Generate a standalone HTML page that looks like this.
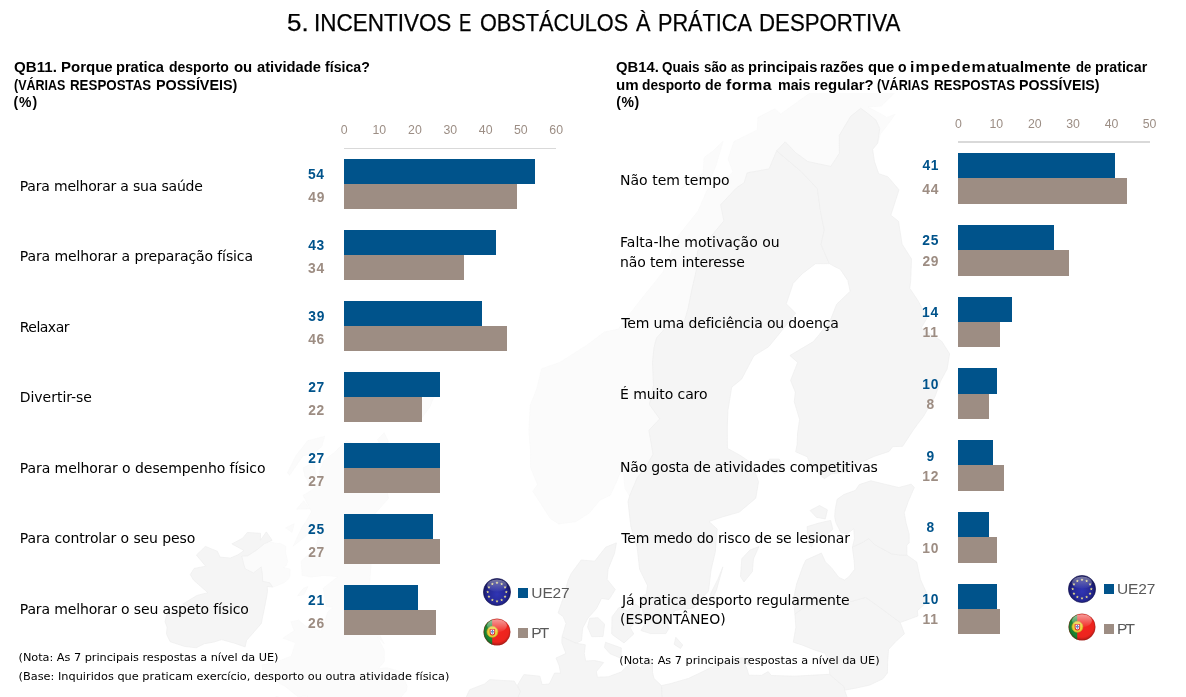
<!DOCTYPE html>
<html lang="pt">
<head>
<meta charset="utf-8">
<title>5. Incentivos e obstáculos à prática desportiva</title>
<style>
html,body{margin:0;padding:0;background:#fff;}
body{width:1186px;height:697px;position:relative;overflow:hidden;font-family:"Liberation Sans",sans-serif;}
#map{position:absolute;left:0;top:0;width:1186px;height:697px;}
.t{position:absolute;white-space:nowrap;margin:0;padding:0;}
.c{transform:translateX(-50%);}
.w{position:absolute;top:0;transform-origin:0 0;}
#title{-webkit-text-stroke:0.25px #000;}
.bar,.sq,.axis{position:absolute;}
.flag{position:absolute;width:28px;height:28px;}
</style>
</head>
<body>
<svg id="map" viewBox="0 0 1186 697">
<defs><clipPath id="mapclip"><rect x="0" y="93" width="1186" height="604"/></clipPath></defs>
<g clip-path="url(#mapclip)">
<g fill="#fbfbfb" stroke="#f8f8f8" stroke-width="0.6" stroke-linejoin="round">
<path d="M264.2 543.8 L271.1 542.1 L276.8 543.4 L279.9 543.2 L285.9 546.4 L285.6 552.8 L287.7 561.3 L286.2 565.7 L283.5 567.3 L290.1 569.2 L289.7 577.5 L287.2 580.3 L283.8 582.8 L276.9 585.7 L272.6 587.1 L269.6 582.7 L262.7 581.4 L262.3 573.9 L261.2 566.9 L253.6 572.9 L245.2 568.9 L243.6 563.9 L241.8 556.1 L247.5 555.9 L257.5 549.4Z"/>
<path d="M346.5 440.6 L362.7 447.6 L373.9 449.1 L379.3 452.1 L372.7 462.6 L358.1 473.5 L352.5 472.2 L346.8 483.3 L364.4 482.3 L386.8 490.2 L388.6 498.3 L379.6 508.4 L368.4 521.4 L360.4 528.1 L361.4 534.1 L343.9 539.2 L357.0 541.9 L365.6 550.6 L371.2 563.8 L369.3 585.6 L371.2 601.3 L379.6 607.7 L385.8 623.8 L379.9 635.8 L384.2 643.8 L377.5 636.9 L384.3 650.2 L384.4 661.4 L378.2 668.8 L386.9 667.7 L401.6 672.0 L407.2 686.6 L406.5 690.8 L392.8 706.6 L387.0 712.3 L374.8 718.0 L370.3 718.5 L390.5 727.0 L386.3 735.1 L377.1 740.2 L360.8 742.1 L353.7 736.6 L339.3 736.1 L333.9 731.4 L327.7 737.6 L313.7 732.2 L303.8 731.8 L296.5 722.5 L284.4 721.9 L276.3 733.4 L267.6 725.2 L248.8 723.8 L242.0 730.3 L233.2 722.6 L244.9 718.5 L252.8 712.0 L267.2 700.4 L276.9 696.5 L297.8 704.1 L307.9 696.3 L297.9 696.6 L284.7 686.1 L280.0 683.6 L271.5 676.1 L262.7 672.7 L262.1 664.8 L276.2 661.9 L291.2 656.2 L295.6 642.7 L282.9 638.2 L294.2 630.7 L290.8 621.8 L298.7 620.3 L306.2 626.5 L320.6 631.0 L322.7 627.9 L327.7 612.0 L333.4 607.2 L326.3 606.6 L323.3 588.1 L337.9 576.7 L324.0 575.4 L311.1 577.0 L302.2 575.5 L301.2 561.0 L310.1 553.0 L315.4 549.4 L319.4 531.8 L307.4 534.8 L293.1 546.3 L302.1 526.9 L306.3 520.9 L311.6 511.6 L303.0 495.4 L313.2 489.2 L319.0 480.1 L319.5 470.7 L324.0 460.6 L334.9 452.0Z"/>
<path d="M324.6 436.3 L321.7 446.6 L313.6 452.9 L302.8 456.0 L289.5 475.4 L287.6 472.6 L296.4 455.1 L307.7 440.7Z"/>
<path d="M313.8 462.6 L316.2 477.0 L310.9 486.3 L304.9 476.2 L303.2 467.7Z"/>
<path d="M303.7 500.7 L309.6 508.8 L296.5 509.2Z"/>
<path d="M294.2 523.7 L292.0 532.4 L285.6 527.8Z"/>
<path d="M384.2 432.8 L388.6 441.9 L381.5 446.9 L377.4 439.7Z"/>
<path d="M436.3 390.6 L429.8 407.2 L420.9 419.2 L420.1 404.0 L426.4 394.8Z"/>
<path d="M307.9 586.5 L304.2 594.6 L297.5 595.8 L303.1 588.5Z"/>
<path d="M629.5 496.1 L625.0 488.3 L622.7 466.4 L616.6 481.7 L610.3 495.2 L600.1 500.0 L589.4 513.0 L575.8 521.7 L558.7 523.9 L550.3 518.6 L541.0 504.0 L532.7 491.4 L537.5 484.5 L530.5 467.4 L530.6 453.0 L528.9 430.8 L530.1 405.7 L536.7 389.1 L541.6 368.7 L559.6 362.5 L586.8 345.2 L604.2 332.1 L618.3 329.1 L625.6 319.4 L638.0 303.3 L647.2 291.7 L663.1 271.9 L670.9 253.2 L677.5 236.8 L698.1 211.0 L707.2 189.7 L720.2 183.4 L733.1 172.0 L728.0 159.0 L733.9 141.6 L757.2 129.9 L757.8 117.5 L774.9 108.7 L780.8 113.9 L810.2 92.8 L812.7 80.6 L831.6 73.0 L841.5 88.8 L852.1 72.2 L862.6 79.0 L869.4 79.5 L881.4 83.4 L894.6 93.0 L881.3 106.1 L868.0 107.0 L880.9 114.0 L886.8 117.4 L895.3 114.2 L888.5 123.6 L880.6 133.9 L877.6 143.3 L879.7 128.6 L876.0 120.2 L866.6 112.5 L860.7 108.3 L850.7 116.3 L839.3 135.4 L839.4 153.2 L830.9 166.4 L818.3 163.8 L807.7 161.5 L795.5 152.5 L785.2 141.8 L776.7 150.8 L769.1 168.9 L747.1 172.9 L744.2 182.7 L736.5 187.8 L720.6 204.8 L723.9 220.9 L711.2 236.1 L697.5 251.1 L696.2 270.6 L692.2 288.1 L687.9 309.1 L683.9 323.0 L668.2 325.0 L656.5 338.0 L654.0 347.7 L652.5 362.6 L653.5 385.3 L649.4 404.5 L659.7 418.9 L648.9 430.3 L653.0 454.1 L645.8 467.6 L637.4 477.4Z"/>
<path d="M703.1 173.4 L688.7 180.9 L680.4 189.0 L685.7 186.0 L698.9 180.1 L711.7 175.8 L716.0 165.4 L723.1 141.1 L713.0 151.0 L704.1 157.5Z"/>
</g>
<g fill="#f5f5f5" stroke="#eeeeee" stroke-width="0.7" stroke-linejoin="round">
<path d="M266.3 531.9 L272.2 540.3 L264.2 543.8 L257.5 549.4 L247.5 555.9 L241.8 556.1 L243.6 563.9 L245.2 568.9 L253.6 572.9 L261.2 566.9 L262.3 573.9 L262.7 581.4 L269.6 582.7 L272.6 587.1 L267.2 586.4 L267.5 591.5 L266.6 596.9 L264.2 609.4 L262.7 616.4 L261.3 623.5 L253.9 632.0 L246.5 640.5 L245.1 646.9 L234.5 643.2 L221.5 639.6 L213.9 642.1 L204.4 643.7 L196.1 647.8 L184.2 646.3 L170.2 641.7 L166.5 634.1 L167.1 627.3 L165.0 621.5 L166.8 614.5 L178.0 612.0 L180.4 614.3 L180.3 609.2 L192.9 608.1 L182.8 604.1 L197.0 595.4 L207.9 592.7 L198.3 584.3 L193.5 580.0 L190.3 574.6 L194.0 568.5 L205.7 566.2 L196.4 555.0 L205.4 546.4 L217.3 551.2 L220.1 557.2 L230.4 558.0 L238.0 554.8 L244.0 550.5 L231.9 543.9 L242.6 538.2 L247.3 532.5 L260.5 533.3 L260.4 540.3Z"/>
<path d="M616.4 542.9 L614.5 553.4 L608.1 569.1 L607.1 579.4 L615.3 589.6 L609.0 599.5 L601.5 598.4 L596.5 608.5 L588.0 618.0 L582.7 628.0 L581.5 640.5 L576.1 643.3 L562.0 636.9 L566.0 623.4 L563.2 616.7 L558.1 612.9 L563.4 597.5 L568.2 580.1 L571.3 573.4 L581.2 560.0 L594.7 561.2 L605.8 547.1Z"/>
<path d="M598.0 617.7 L604.6 624.1 L603.0 636.5 L591.8 636.7 L587.6 627.0 L589.7 618.3Z"/>
<path d="M635.6 604.0 L640.2 607.8 L638.4 620.1 L630.1 627.4 L633.7 634.0 L624.0 642.9 L611.7 634.1 L612.0 616.9 L619.0 607.4 L627.5 611.0Z"/>
<path d="M605.5 642.3 L621.3 647.9 L621.0 658.3 L610.0 653.7 L604.5 647.5Z"/>
<path d="M675.8 637.3 L682.7 645.0 L680.5 648.5 L674.2 644.4Z"/>
<path d="M562.0 636.9 L576.1 643.3 L585.3 644.7 L584.3 653.6 L585.7 661.0 L594.5 660.5 L603.7 662.5 L596.4 671.6 L597.4 677.2 L608.2 676.8 L621.2 672.0 L630.9 662.4 L640.4 668.1 L648.9 657.1 L652.4 663.9 L652.5 672.2 L653.9 678.4 L661.4 685.6 L663.2 708.0 L655.9 723.5 L664.6 742.2 L664.2 761.9 L668.4 790.9 L613.3 821.4 L511.6 842.3 L481.2 763.5 L504.1 731.9 L520.3 691.4 L517.4 685.3 L523.9 674.6 L539.9 676.2 L542.1 684.6 L549.3 684.0 L554.6 673.0 L560.6 673.3 L559.2 665.8 L556.0 658.0 L565.9 653.5 L561.8 642.7Z"/>
<path d="M661.4 685.6 L671.0 683.5 L688.5 678.4 L705.1 670.5 L714.3 665.6 L727.8 660.2 L742.4 657.8 L751.9 666.3 L744.2 662.5 L747.0 669.0 L748.8 675.2 L761.5 675.4 L768.2 671.6 L771.3 675.5 L794.7 676.2 L814.2 675.1 L829.8 674.3 L833.9 678.1 L844.1 686.6 L844.6 690.2 L853.4 714.9 L846.3 736.7 L850.1 754.5 L850.0 776.0 L860.0 811.4 L752.9 848.9 L668.4 790.9 L664.2 761.9 L664.6 742.2 L655.9 723.5 L663.2 708.0Z"/>
<path d="M520.3 691.4 L504.1 731.9 L481.2 763.5 L429.9 740.6 L438.3 731.7 L449.3 720.4 L461.9 706.2 L469.7 689.7 L484.6 683.9 L489.8 679.6 L502.0 680.4 L514.2 681.1Z"/>
<path d="M794.9 613.9 L812.2 601.7 L830.7 601.1 L849.3 602.0 L865.7 597.3 L879.5 607.1 L900.2 622.5 L904.4 633.7 L895.6 641.7 L888.5 649.5 L887.6 662.2 L887.4 673.0 L882.9 678.8 L869.6 685.1 L857.9 687.7 L844.6 690.2 L844.1 686.6 L833.9 678.1 L829.8 674.3 L828.4 662.1 L825.2 653.3 L814.5 650.0 L801.9 644.9 L793.3 642.2 L795.9 627.1Z"/>
<path d="M794.9 613.9 L793.6 598.5 L796.6 584.1 L803.0 566.1 L805.9 560.0 L821.4 553.1 L825.4 561.9 L831.4 567.7 L838.8 577.4 L844.4 580.0 L848.8 576.9 L854.7 569.3 L854.1 560.4 L852.4 547.2 L863.6 541.8 L868.7 538.5 L874.5 544.5 L882.0 548.6 L891.5 553.8 L898.8 554.9 L906.9 555.1 L916.7 562.0 L920.5 579.6 L926.7 593.3 L926.8 602.3 L917.3 610.7 L917.9 616.0 L900.2 622.5 L879.5 607.1 L865.7 597.3 L849.3 602.0 L830.7 601.1 L812.2 601.7Z"/>
<path d="M852.4 547.2 L854.5 538.8 L853.8 528.8 L847.1 533.9 L840.9 532.5 L835.9 522.7 L834.7 516.7 L835.2 509.5 L837.2 499.3 L843.8 494.6 L855.5 490.3 L859.3 484.6 L870.9 480.8 L884.8 484.2 L898.8 487.5 L911.3 484.2 L914.3 487.5 L908.2 501.6 L904.2 512.8 L906.2 523.4 L909.1 533.9 L909.2 543.0 L906.8 545.0 L906.9 555.1 L898.8 554.9 L891.5 553.8 L882.0 548.6 L874.5 544.5 L868.7 538.5 L863.6 541.8Z"/>
<path d="M807.2 526.6 L820.2 522.7 L830.6 520.4 L832.8 529.3 L824.3 536.8 L815.4 535.4 L811.4 547.3 L808.5 540.9 L807.4 532.0Z"/>
<path d="M819.5 505.5 L827.4 509.8 L825.3 518.9 L816.5 517.4 L810.1 510.5Z"/>
<path d="M776.7 150.8 L801.5 171.8 L817.4 188.7 L820.3 210.7 L824.3 230.0 L821.0 244.5 L829.3 263.6 L815.5 263.7 L802.1 273.9 L793.1 283.4 L786.3 303.8 L795.7 313.3 L776.9 336.7 L768.7 346.7 L753.9 355.8 L741.7 379.0 L731.7 387.2 L727.9 410.6 L727.3 425.9 L727.4 448.4 L739.6 455.0 L748.4 460.9 L754.3 469.6 L758.5 481.8 L755.8 498.2 L739.3 512.1 L722.8 516.8 L709.0 521.5 L717.2 529.1 L715.3 551.9 L711.2 569.2 L708.5 590.9 L693.5 607.9 L675.0 610.4 L667.0 622.3 L669.2 627.8 L665.9 633.6 L650.4 633.6 L640.9 630.5 L645.1 623.7 L642.0 607.3 L639.1 598.0 L646.4 594.1 L647.5 585.6 L639.6 569.3 L637.2 547.5 L630.8 526.2 L628.0 501.7 L629.5 496.1 L637.4 477.4 L645.8 467.6 L653.0 454.1 L648.9 430.3 L659.7 418.9 L649.4 404.5 L653.5 385.3 L652.5 362.6 L654.0 347.7 L656.5 338.0 L668.2 325.0 L683.9 323.0 L687.9 309.1 L692.2 288.1 L696.2 270.6 L697.5 251.1 L711.2 236.1 L723.9 220.9 L720.6 204.8 L736.5 187.8 L744.2 182.7 L747.1 172.9 L769.1 168.9Z"/>
<path d="M758.9 546.6 L753.4 559.0 L752.4 571.5 L744.0 582.0 L740.5 576.5 L741.8 558.7 L750.0 550.0Z"/>
<path d="M722.9 566.9 L716.5 589.9 L708.4 607.3 L710.9 593.2 L717.9 579.2Z"/>
<path d="M776.7 150.8 L785.2 141.8 L795.5 152.5 L807.7 161.5 L818.3 163.8 L830.9 166.4 L839.4 153.2 L839.3 135.4 L850.7 116.3 L860.7 108.3 L866.6 112.5 L876.0 120.2 L879.7 128.6 L877.6 143.3 L872.6 149.4 L874.5 161.7 L878.7 173.7 L887.8 176.7 L899.0 189.8 L890.8 215.2 L898.5 221.3 L902.1 244.2 L911.5 259.0 L910.7 280.8 L909.7 288.2 L918.4 301.3 L927.0 318.1 L921.1 328.1 L941.5 341.0 L949.6 353.8 L947.1 369.1 L940.5 381.2 L935.0 396.6 L923.4 416.5 L917.2 424.6 L913.0 430.5 L902.6 446.3 L892.7 446.7 L889.1 451.4 L873.8 456.5 L869.0 458.7 L856.9 464.3 L848.2 471.8 L831.6 473.8 L824.2 478.8 L816.3 470.9 L811.1 467.5 L807.4 456.9 L795.7 451.8 L797.1 444.6 L797.6 432.8 L799.6 419.5 L794.3 401.8 L795.3 392.1 L790.6 380.4 L797.7 362.4 L789.9 355.5 L813.4 341.6 L819.0 334.9 L830.6 319.6 L836.7 304.2 L850.2 291.3 L847.8 280.4 L840.2 269.2 L835.1 266.8 L829.3 263.6 L821.0 244.5 L824.3 230.0 L820.3 210.7 L817.4 188.7 L801.5 171.8Z"/>
<path d="M769.3 459.1 L779.3 459.1 L784.4 469.8 L774.4 473.4 L767.7 468.0Z"/>
<path d="M429.9 740.6 L418.9 741.4 L407.5 743.9 L395.4 744.3 L388.3 750.8 L381.8 768.3 L366.8 775.0 L339.9 800.4 L511.6 842.3 L481.2 763.5Z"/>
</g></g></svg>

<div class="axis" style="left:344.30px;top:147.70px;width:211.92px;height:1.30px;background:#d9d9d9"></div>
<div class="bar" style="left:344.30px;top:184.00px;width:173.07px;height:24.90px;background:#9d8d83"></div>
<div class="bar" style="left:344.30px;top:158.80px;width:190.73px;height:25.20px;background:#00538b"></div>
<div class="bar" style="left:344.30px;top:255.00px;width:120.09px;height:24.93px;background:#9d8d83"></div>
<div class="bar" style="left:344.30px;top:229.83px;width:151.88px;height:25.17px;background:#00538b"></div>
<div class="bar" style="left:344.30px;top:326.00px;width:162.47px;height:24.96px;background:#9d8d83"></div>
<div class="bar" style="left:344.30px;top:300.86px;width:137.75px;height:25.14px;background:#00538b"></div>
<div class="bar" style="left:344.30px;top:397.00px;width:77.70px;height:24.99px;background:#9d8d83"></div>
<div class="bar" style="left:344.30px;top:371.89px;width:95.36px;height:25.11px;background:#00538b"></div>
<div class="bar" style="left:344.30px;top:468.00px;width:95.36px;height:25.02px;background:#9d8d83"></div>
<div class="bar" style="left:344.30px;top:442.92px;width:95.36px;height:25.08px;background:#00538b"></div>
<div class="bar" style="left:344.30px;top:539.00px;width:95.36px;height:25.05px;background:#9d8d83"></div>
<div class="bar" style="left:344.30px;top:513.95px;width:88.30px;height:25.05px;background:#00538b"></div>
<div class="bar" style="left:344.30px;top:610.00px;width:91.83px;height:25.08px;background:#9d8d83"></div>
<div class="bar" style="left:344.30px;top:584.98px;width:74.17px;height:25.02px;background:#00538b"></div>
<div class="axis" style="left:958.40px;top:141.30px;width:191.25px;height:1.30px;background:#d9d9d9"></div>
<div class="bar" style="left:958.40px;top:178.00px;width:168.30px;height:25.80px;background:#9d8d83"></div>
<div class="bar" style="left:958.40px;top:153.10px;width:156.83px;height:24.90px;background:#00538b"></div>
<div class="bar" style="left:958.40px;top:250.00px;width:110.93px;height:25.55px;background:#9d8d83"></div>
<div class="bar" style="left:958.40px;top:224.85px;width:95.62px;height:25.15px;background:#00538b"></div>
<div class="bar" style="left:958.40px;top:322.00px;width:42.08px;height:25.30px;background:#9d8d83"></div>
<div class="bar" style="left:958.40px;top:296.60px;width:53.55px;height:25.40px;background:#00538b"></div>
<div class="bar" style="left:958.40px;top:394.00px;width:30.60px;height:25.05px;background:#9d8d83"></div>
<div class="bar" style="left:958.40px;top:368.35px;width:38.25px;height:25.65px;background:#00538b"></div>
<div class="bar" style="left:958.40px;top:465.00px;width:45.90px;height:25.80px;background:#9d8d83"></div>
<div class="bar" style="left:958.40px;top:440.10px;width:34.43px;height:24.90px;background:#00538b"></div>
<div class="bar" style="left:958.40px;top:537.00px;width:38.25px;height:25.55px;background:#9d8d83"></div>
<div class="bar" style="left:958.40px;top:511.85px;width:30.60px;height:25.15px;background:#00538b"></div>
<div class="bar" style="left:958.40px;top:609.00px;width:42.08px;height:25.30px;background:#9d8d83"></div>
<div class="bar" style="left:958.40px;top:583.60px;width:38.25px;height:25.40px;background:#00538b"></div>
<div class="sq" style="left:517.70px;top:587.80px;width:10.20px;height:10.20px;background:#00538b"></div>
<div class="sq" style="left:517.70px;top:628.00px;width:10.20px;height:10.00px;background:#9d8d83"></div>
<div class="sq" style="left:1103.70px;top:583.50px;width:10.20px;height:10.20px;background:#00538b"></div>
<div class="sq" style="left:1103.70px;top:623.90px;width:10.20px;height:10.00px;background:#9d8d83"></div>
<div class="t" id="title" style='left:0;top:10.75px;font:400 23.80px/23.80px "Liberation Sans", sans-serif;color:#000'><span class="w" style="left:287.21px;transform:scaleX(1.0925)">5.</span> <span class="w" style="left:314.08px;transform:scaleX(0.9444)">INCENTIVOS</span> <span class="w" style="left:459.35px;transform:scaleX(0.7769)">E</span> <span class="w" style="left:479.69px;transform:scaleX(0.9109)">OBSTÁCULOS</span> <span class="w" style="left:635.70px;transform:scaleX(0.9143)">À</span> <span class="w" style="left:657.88px;transform:scaleX(0.9109)">PRÁTICA</span> <span class="w" style="left:759.03px;transform:scaleX(0.9342)">DESPORTIVA</span></div>
<div class="t" id="h1a" style='left:0;top:59.95px;font:700 14.00px/14.00px "Liberation Sans", sans-serif;color:#000'><span class="w" style="left:14.26px;transform:scaleX(1.0797)">QB11.</span> <span class="w" style="left:60.53px;transform:scaleX(1.0717)">Porque</span> <span class="w" style="left:116.26px;transform:scaleX(1.0444)">pratica</span> <span class="w" style="left:169.40px;transform:scaleX(0.9991)">desporto</span> <span class="w" style="left:234.07px;transform:scaleX(1.0667)">ou</span> <span class="w" style="left:256.77px;transform:scaleX(1.0527)">atividade</span> <span class="w" style="left:325.45px;transform:scaleX(1.0104)">física?</span></div>
<div class="t" id="h1b" style='left:0;top:77.55px;font:700 14.00px/14.00px "Liberation Sans", sans-serif;color:#000'><span class="w" style="left:14.13px;transform:scaleX(0.8907)">(VÁRIAS</span> <span class="w" style="left:70.25px;transform:scaleX(0.9516)">RESPOSTAS</span> <span class="w" style="left:156.27px;transform:scaleX(1.0251)">POSSÍVEIS)</span></div>
<div class="t" id="h1c" style='left:13.45px;top:94.95px;font:700 14.00px/14.00px "Liberation Sans", sans-serif;color:#000;letter-spacing:0.975px'>(%)</div>
<div class="t" id="h2a" style='left:0;top:59.95px;font:700 14.00px/14.00px "Liberation Sans", sans-serif;color:#000'><span class="w" style="left:616.27px;transform:scaleX(1.0590)">QB14.</span> <span class="w" style="left:662.12px;transform:scaleX(0.9642)">Quais</span> <span class="w" style="left:703.63px;transform:scaleX(0.9478)">são</span> <span class="w" style="left:730.77px;transform:scaleX(0.8552)">as</span> <span class="w" style="left:747.55px;transform:scaleX(1.0481)">principais</span> <span class="w" style="left:820.02px;transform:scaleX(0.9825)">razões</span> <span class="w" style="left:867.57px;transform:scaleX(1.0542)">que</span> <span class="w" style="left:898.00px;transform:scaleX(1.0000)">o</span> <span class="w" style="left:909.57px;letter-spacing:0.895px;transform:scaleX(1.1300)">impedem</span> <span class="w" style="left:986.63px;letter-spacing:0.030px;transform:scaleX(1.1300)">atualmente</span> <span class="w" style="left:1076.03px;transform:scaleX(0.9355)">de</span> <span class="w" style="left:1095.48px;transform:scaleX(1.0169)">praticar</span></div>
<div class="t" id="h2b" style='left:0;top:77.55px;font:700 14.00px/14.00px "Liberation Sans", sans-serif;color:#000'><span class="w" style="left:615.99px;transform:scaleX(1.0769)">um</span> <span class="w" style="left:642.41px;transform:scaleX(0.9821)">desporto</span> <span class="w" style="left:705.09px;transform:scaleX(1.0129)">de</span> <span class="w" style="left:726.12px;letter-spacing:0.379px;transform:scaleX(1.1300)">forma</span> <span class="w" style="left:777.98px;transform:scaleX(1.0182)">mais</span> <span class="w" style="left:814.34px;transform:scaleX(1.0636)">regular?</span> <span class="w" style="left:877.03px;transform:scaleX(0.8996)">(VÁRIAS</span> <span class="w" style="left:933.65px;transform:scaleX(0.9516)">RESPOSTAS</span> <span class="w" style="left:1019.09px;transform:scaleX(1.0148)">POSSÍVEIS)</span></div>
<div class="t" id="h2c" style='left:616.15px;top:94.95px;font:700 14.00px/14.00px "Liberation Sans", sans-serif;color:#000;letter-spacing:0.675px'>(%)</div>
<div class="t" id="ll0" style='left:19.75px;top:179.06px;font:400 14.00px/14.00px "DejaVu Sans", "Liberation Sans", sans-serif;color:#000;letter-spacing:-0.194px'>Para melhorar a sua saúde</div>
<div class="t" id="ll1" style='left:19.75px;top:248.96px;font:400 14.00px/14.00px "DejaVu Sans", "Liberation Sans", sans-serif;color:#000;letter-spacing:-0.105px'>Para melhorar a preparação física</div>
<div class="t" id="ll2" style='left:19.75px;top:320.06px;font:400 14.00px/14.00px "DejaVu Sans", "Liberation Sans", sans-serif;color:#000;letter-spacing:-0.517px'>Relaxar</div>
<div class="t" id="ll3" style='left:19.75px;top:390.16px;font:400 14.00px/14.00px "DejaVu Sans", "Liberation Sans", sans-serif;color:#000;letter-spacing:-0.030px'>Divertir-se</div>
<div class="t" id="ll4" style='left:19.75px;top:461.26px;font:400 14.00px/14.00px "DejaVu Sans", "Liberation Sans", sans-serif;color:#000;letter-spacing:-0.066px'>Para melhorar o desempenho físico</div>
<div class="t" id="ll5" style='left:19.75px;top:531.16px;font:400 14.00px/14.00px "DejaVu Sans", "Liberation Sans", sans-serif;color:#000;letter-spacing:-0.110px'>Para controlar o seu peso</div>
<div class="t" id="ll6" style='left:19.75px;top:602.16px;font:400 14.00px/14.00px "DejaVu Sans", "Liberation Sans", sans-serif;color:#000;letter-spacing:-0.142px'>Para melhorar o seu aspeto físico</div>
<div class="t" id="rl0" style='left:620.05px;top:173.06px;font:400 14.00px/14.00px "DejaVu Sans", "Liberation Sans", sans-serif;color:#000;letter-spacing:0.008px'>Não tem tempo</div>
<div class="t" id="rl1" style='left:620.05px;top:234.96px;font:400 14.00px/14.00px "DejaVu Sans", "Liberation Sans", sans-serif;color:#000;letter-spacing:0.010px'>Falta-lhe motivação ou</div>
<div class="t" id="rl2" style='left:620.05px;top:254.86px;font:400 14.00px/14.00px "DejaVu Sans", "Liberation Sans", sans-serif;color:#000;letter-spacing:-0.128px'>não tem interesse</div>
<div class="t" id="rl3" style='left:621.30px;top:315.86px;font:400 14.00px/14.00px "DejaVu Sans", "Liberation Sans", sans-serif;color:#000;letter-spacing:-0.141px'>Tem uma deficiência ou doença</div>
<div class="t" id="rl4" style='left:620.05px;top:387.36px;font:400 14.00px/14.00px "DejaVu Sans", "Liberation Sans", sans-serif;color:#000;letter-spacing:-0.091px'>É muito caro</div>
<div class="t" id="rl5" style='left:620.05px;top:459.76px;font:400 14.00px/14.00px "DejaVu Sans", "Liberation Sans", sans-serif;color:#000;letter-spacing:-0.189px'>Não gosta de atividades competitivas</div>
<div class="t" id="rl6" style='left:621.30px;top:530.66px;font:400 14.00px/14.00px "DejaVu Sans", "Liberation Sans", sans-serif;color:#000;letter-spacing:-0.184px'>Tem medo do risco de se lesionar</div>
<div class="t" id="rl7" style='left:622.05px;top:592.86px;font:400 14.00px/14.00px "DejaVu Sans", "Liberation Sans", sans-serif;color:#000;letter-spacing:-0.142px'>Já pratica desporto regularmente</div>
<div class="t" id="rl8" style='left:620.05px;top:612.46px;font:400 14.00px/14.00px "DejaVu Sans", "Liberation Sans", sans-serif;color:#000;letter-spacing:-0.036px'>(ESPONTÂNEO)</div>
<div class="t" id="n1" style='left:18.50px;top:652.34px;font:400 11.30px/11.30px "DejaVu Sans", "Liberation Sans", sans-serif;color:#000;letter-spacing:-0.030px'>(Nota: As 7 principais respostas a nível da UE)</div>
<div class="t" id="n2" style='left:18.50px;top:670.54px;font:400 11.30px/11.30px "DejaVu Sans", "Liberation Sans", sans-serif;color:#000;letter-spacing:0.017px'>(Base: Inquiridos que praticam exercício, desporto ou outra atividade física)</div>
<div class="t" id="n3" style='left:619.30px;top:654.84px;font:400 11.30px/11.30px "DejaVu Sans", "Liberation Sans", sans-serif;color:#000;letter-spacing:-0.024px'>(Nota: As 7 principais respostas a nível da UE)</div>
<div class="t" id="Lt0" style='left:340.80px;top:124.39px;font:400 12.30px/12.30px "Liberation Sans", sans-serif;color:#9c8e85;letter-spacing:0.000px'>0</div>
<div class="t" id="Lt10" style='left:372.50px;top:124.39px;font:400 12.30px/12.30px "Liberation Sans", sans-serif;color:#9c8e85;letter-spacing:0.000px'>10</div>
<div class="t" id="Lt20" style='left:408.06px;top:124.39px;font:400 12.30px/12.30px "Liberation Sans", sans-serif;color:#9c8e85;letter-spacing:0.000px'>20</div>
<div class="t" id="Lt30" style='left:443.38px;top:124.39px;font:400 12.30px/12.30px "Liberation Sans", sans-serif;color:#9c8e85;letter-spacing:0.000px'>30</div>
<div class="t" id="Lt40" style='left:478.83px;top:124.39px;font:400 12.30px/12.30px "Liberation Sans", sans-serif;color:#9c8e85;letter-spacing:0.000px'>40</div>
<div class="t" id="Lt50" style='left:514.02px;top:124.39px;font:400 12.30px/12.30px "Liberation Sans", sans-serif;color:#9c8e85;letter-spacing:0.000px'>50</div>
<div class="t" id="Lt60" style='left:549.35px;top:124.39px;font:400 12.30px/12.30px "Liberation Sans", sans-serif;color:#9c8e85;letter-spacing:0.000px'>60</div>
<div class="t" id="Lb0" style='left:307.97px;top:167.92px;font:700 13.80px/13.80px "Liberation Sans", sans-serif;color:#00538b;letter-spacing:0.700px'>54</div>
<div class="t" id="Lg0" style='left:308.35px;top:191.22px;font:700 13.80px/13.80px "Liberation Sans", sans-serif;color:#9d8d83;letter-spacing:0.700px'>49</div>
<div class="t" id="Lb1" style='left:308.22px;top:238.95px;font:700 13.80px/13.80px "Liberation Sans", sans-serif;color:#00538b;letter-spacing:0.700px'>43</div>
<div class="t" id="Lg1" style='left:308.10px;top:262.25px;font:700 13.80px/13.80px "Liberation Sans", sans-serif;color:#9d8d83;letter-spacing:0.700px'>34</div>
<div class="t" id="Lb2" style='left:308.35px;top:309.98px;font:700 13.80px/13.80px "Liberation Sans", sans-serif;color:#00538b;letter-spacing:0.700px'>39</div>
<div class="t" id="Lg2" style='left:308.22px;top:333.28px;font:700 13.80px/13.80px "Liberation Sans", sans-serif;color:#9d8d83;letter-spacing:0.700px'>46</div>
<div class="t" id="Lb3" style='left:308.22px;top:381.01px;font:700 13.80px/13.80px "Liberation Sans", sans-serif;color:#00538b;letter-spacing:0.700px'>27</div>
<div class="t" id="Lg3" style='left:308.22px;top:404.31px;font:700 13.80px/13.80px "Liberation Sans", sans-serif;color:#9d8d83;letter-spacing:0.700px'>22</div>
<div class="t" id="Lb4" style='left:308.22px;top:452.04px;font:700 13.80px/13.80px "Liberation Sans", sans-serif;color:#00538b;letter-spacing:0.700px'>27</div>
<div class="t" id="Lg4" style='left:308.22px;top:475.34px;font:700 13.80px/13.80px "Liberation Sans", sans-serif;color:#9d8d83;letter-spacing:0.700px'>27</div>
<div class="t" id="Lb5" style='left:308.10px;top:523.07px;font:700 13.80px/13.80px "Liberation Sans", sans-serif;color:#00538b;letter-spacing:0.700px'>25</div>
<div class="t" id="Lg5" style='left:308.22px;top:546.37px;font:700 13.80px/13.80px "Liberation Sans", sans-serif;color:#9d8d83;letter-spacing:0.700px'>27</div>
<div class="t" id="Lb6" style='left:308.10px;top:594.10px;font:700 13.80px/13.80px "Liberation Sans", sans-serif;color:#00538b;letter-spacing:0.700px'>21</div>
<div class="t" id="Lg6" style='left:308.10px;top:617.40px;font:700 13.80px/13.80px "Liberation Sans", sans-serif;color:#9d8d83;letter-spacing:0.700px'>26</div>
<div class="t" id="Rt0" style='left:954.90px;top:118.19px;font:400 12.30px/12.30px "Liberation Sans", sans-serif;color:#9c8e85;letter-spacing:0.000px'>0</div>
<div class="t" id="Rt10" style='left:989.52px;top:118.19px;font:400 12.30px/12.30px "Liberation Sans", sans-serif;color:#9c8e85;letter-spacing:0.000px'>10</div>
<div class="t" id="Rt20" style='left:1028.03px;top:118.19px;font:400 12.30px/12.30px "Liberation Sans", sans-serif;color:#9c8e85;letter-spacing:0.000px'>20</div>
<div class="t" id="Rt30" style='left:1066.28px;top:118.19px;font:400 12.30px/12.30px "Liberation Sans", sans-serif;color:#9c8e85;letter-spacing:0.000px'>30</div>
<div class="t" id="Rt40" style='left:1104.65px;top:118.19px;font:400 12.30px/12.30px "Liberation Sans", sans-serif;color:#9c8e85;letter-spacing:0.000px'>40</div>
<div class="t" id="Rt50" style='left:1142.78px;top:118.19px;font:400 12.30px/12.30px "Liberation Sans", sans-serif;color:#9c8e85;letter-spacing:0.000px'>50</div>
<div class="t" id="Rb0" style='left:922.42px;top:159.42px;font:700 13.80px/13.80px "Liberation Sans", sans-serif;color:#00538b;letter-spacing:0.700px'>41</div>
<div class="t" id="Rg0" style='left:922.30px;top:183.42px;font:700 13.80px/13.80px "Liberation Sans", sans-serif;color:#9d8d83;letter-spacing:0.700px'>44</div>
<div class="t" id="Rb1" style='left:922.30px;top:234.37px;font:700 13.80px/13.80px "Liberation Sans", sans-serif;color:#00538b;letter-spacing:0.700px'>25</div>
<div class="t" id="Rg1" style='left:922.42px;top:254.57px;font:700 13.80px/13.80px "Liberation Sans", sans-serif;color:#9d8d83;letter-spacing:0.700px'>29</div>
<div class="t" id="Rb2" style='left:922.05px;top:306.12px;font:700 13.80px/13.80px "Liberation Sans", sans-serif;color:#00538b;letter-spacing:0.700px'>14</div>
<div class="t" id="Rg2" style='left:922.55px;top:326.32px;font:700 13.80px/13.80px "Liberation Sans", sans-serif;color:#9d8d83;letter-spacing:0.700px'>11</div>
<div class="t" id="Rb3" style='left:922.30px;top:377.87px;font:700 13.80px/13.80px "Liberation Sans", sans-serif;color:#00538b;letter-spacing:0.700px'>10</div>
<div class="t" id="Rg3" style='left:926.52px;top:398.07px;font:700 13.80px/13.80px "Liberation Sans", sans-serif;color:#9d8d83;letter-spacing:0.000px'>8</div>
<div class="t" id="Rb4" style='left:926.52px;top:449.62px;font:700 13.80px/13.80px "Liberation Sans", sans-serif;color:#00538b;letter-spacing:0.000px'>9</div>
<div class="t" id="Rg4" style='left:922.30px;top:469.82px;font:700 13.80px/13.80px "Liberation Sans", sans-serif;color:#9d8d83;letter-spacing:0.700px'>12</div>
<div class="t" id="Rb5" style='left:926.52px;top:521.37px;font:700 13.80px/13.80px "Liberation Sans", sans-serif;color:#00538b;letter-spacing:0.000px'>8</div>
<div class="t" id="Rg5" style='left:922.30px;top:541.57px;font:700 13.80px/13.80px "Liberation Sans", sans-serif;color:#9d8d83;letter-spacing:0.700px'>10</div>
<div class="t" id="Rb6" style='left:922.30px;top:593.12px;font:700 13.80px/13.80px "Liberation Sans", sans-serif;color:#00538b;letter-spacing:0.700px'>10</div>
<div class="t" id="Rg6" style='left:922.55px;top:613.32px;font:700 13.80px/13.80px "Liberation Sans", sans-serif;color:#9d8d83;letter-spacing:0.700px'>11</div>
<div class="t" id="Ll1" style='left:531.35px;top:584.68px;font:400 15.50px/15.50px "Liberation Sans", sans-serif;color:#595959;letter-spacing:-0.150px'>UE27</div>
<div class="t" id="Ll2" style='left:531.35px;top:624.68px;font:400 15.50px/15.50px "Liberation Sans", sans-serif;color:#595959;letter-spacing:-1.850px'>PT</div>
<div class="t" id="Rl1" style='left:1117.05px;top:580.78px;font:400 15.50px/15.50px "Liberation Sans", sans-serif;color:#595959;letter-spacing:-0.150px'>UE27</div>
<div class="t" id="Rl2" style='left:1117.05px;top:620.78px;font:400 15.50px/15.50px "Liberation Sans", sans-serif;color:#595959;letter-spacing:-1.850px'>PT</div>
<svg class="flag" style="left:482.70px;top:578.10px" viewBox="0 0 28 28">
<defs>
<radialGradient id="euG0" cx="50%" cy="58%" r="55%"><stop offset="0" stop-color="#3035b4"/><stop offset="0.6" stop-color="#262996"/><stop offset="1" stop-color="#14145a"/></radialGradient>
<linearGradient id="glo0" x1="0" y1="0" x2="0" y2="1"><stop offset="0" stop-color="#fff" stop-opacity="0.42"/><stop offset="1" stop-color="#fff" stop-opacity="0.02"/></linearGradient>
</defs>
<circle cx="14" cy="14" r="13.6" fill="url(#euG0)" stroke="#10104f" stroke-width="0.6"/>
<g fill="#ebe08a"><polygon points="14.00,3.15 14.40,4.15 15.47,4.22 14.65,4.91 14.91,5.95 14.00,5.38 13.09,5.95 13.35,4.91 12.53,4.22 13.60,4.15"/><polygon points="18.65,4.40 19.05,5.40 20.12,5.47 19.30,6.16 19.56,7.20 18.65,6.63 17.74,7.20 18.00,6.16 17.18,5.47 18.25,5.40"/><polygon points="22.05,7.80 22.45,8.80 23.53,8.87 22.70,9.56 22.97,10.60 22.05,10.03 21.14,10.60 21.41,9.56 20.58,8.87 21.65,8.80"/><polygon points="23.30,12.45 23.70,13.45 24.77,13.52 23.95,14.21 24.21,15.25 23.30,14.68 22.39,15.25 22.65,14.21 21.83,13.52 22.90,13.45"/><polygon points="22.05,17.10 22.45,18.10 23.53,18.17 22.70,18.86 22.97,19.90 22.05,19.33 21.14,19.90 21.41,18.86 20.58,18.17 21.65,18.10"/><polygon points="18.65,20.50 19.05,21.50 20.12,21.58 19.30,22.26 19.56,23.31 18.65,22.73 17.74,23.31 18.00,22.26 17.18,21.58 18.25,21.50"/><polygon points="14.00,21.75 14.40,22.75 15.47,22.82 14.65,23.51 14.91,24.55 14.00,23.98 13.09,24.55 13.35,23.51 12.53,22.82 13.60,22.75"/><polygon points="9.35,20.50 9.75,21.50 10.82,21.58 10.00,22.26 10.26,23.31 9.35,22.73 8.44,23.31 8.70,22.26 7.88,21.58 8.95,21.50"/><polygon points="5.95,17.10 6.35,18.10 7.42,18.17 6.59,18.86 6.86,19.90 5.95,19.33 5.03,19.90 5.30,18.86 4.47,18.17 5.55,18.10"/><polygon points="4.70,12.45 5.10,13.45 6.17,13.52 5.35,14.21 5.61,15.25 4.70,14.68 3.79,15.25 4.05,14.21 3.23,13.52 4.30,13.45"/><polygon points="5.95,7.80 6.35,8.80 7.42,8.87 6.59,9.56 6.86,10.60 5.95,10.03 5.03,10.60 5.30,9.56 4.47,8.87 5.55,8.80"/><polygon points="9.35,4.40 9.75,5.40 10.82,5.47 10.00,6.16 10.26,7.20 9.35,6.63 8.44,7.20 8.70,6.16 7.88,5.47 8.95,5.40"/></g>
<ellipse cx="14" cy="7.6" rx="10.2" ry="6.2" fill="url(#glo0)"/>
</svg>
<svg class="flag" style="left:482.70px;top:618.00px" viewBox="0 0 28 28">
<defs>
<clipPath id="ptC1"><circle cx="14" cy="14" r="13.3"/></clipPath>
<radialGradient id="ptS1" cx="50%" cy="45%" r="55%"><stop offset="0" stop-color="#000" stop-opacity="0"/><stop offset="0.75" stop-color="#000" stop-opacity="0.04"/><stop offset="1" stop-color="#000" stop-opacity="0.35"/></radialGradient>
<linearGradient id="glo21" x1="0" y1="0" x2="0" y2="1"><stop offset="0" stop-color="#fff" stop-opacity="0.55"/><stop offset="1" stop-color="#fff" stop-opacity="0.05"/></linearGradient>
</defs>
<g clip-path="url(#ptC1)">
<rect x="0" y="0" width="28" height="28" fill="#f5251f"/>
<rect x="0" y="0" width="9.2" height="28" fill="#1d8a34"/>
<circle cx="9.4" cy="13.8" r="5.5" fill="#f0d53c" stroke="#cfa524" stroke-width="0.7"/>
<path d="M6.7 10.9h5.4v3.6a2.7 2.9 0 0 1-5.4 0z" fill="#e02222"/>
<path d="M7.6 11.7h3.6v2.8a1.8 2 0 0 1-3.6 0z" fill="#fff"/>
<g fill="#2a4fb0"><rect x="8.9" y="12.1" width="1" height="1"/><rect x="7.9" y="13.3" width="1" height="1"/><rect x="9.9" y="13.3" width="1" height="1"/><rect x="8.9" y="14.5" width="1" height="1"/><rect x="8.9" y="13.3" width="1" height="1"/></g>
<rect x="0" y="0" width="28" height="28" fill="url(#ptS1)"/>
<ellipse cx="14" cy="7.6" rx="10" ry="6.4" fill="url(#glo21)"/>
</g>
<circle cx="14" cy="14" r="13.3" fill="none" stroke="#7a1a14" stroke-opacity="0.5" stroke-width="0.5"/>
</svg>
<svg class="flag" style="left:1068.40px;top:574.50px" viewBox="0 0 28 28">
<defs>
<radialGradient id="euG2" cx="50%" cy="58%" r="55%"><stop offset="0" stop-color="#3035b4"/><stop offset="0.6" stop-color="#262996"/><stop offset="1" stop-color="#14145a"/></radialGradient>
<linearGradient id="glo2" x1="0" y1="0" x2="0" y2="1"><stop offset="0" stop-color="#fff" stop-opacity="0.42"/><stop offset="1" stop-color="#fff" stop-opacity="0.02"/></linearGradient>
</defs>
<circle cx="14" cy="14" r="13.6" fill="url(#euG2)" stroke="#10104f" stroke-width="0.6"/>
<g fill="#ebe08a"><polygon points="14.00,3.15 14.40,4.15 15.47,4.22 14.65,4.91 14.91,5.95 14.00,5.38 13.09,5.95 13.35,4.91 12.53,4.22 13.60,4.15"/><polygon points="18.65,4.40 19.05,5.40 20.12,5.47 19.30,6.16 19.56,7.20 18.65,6.63 17.74,7.20 18.00,6.16 17.18,5.47 18.25,5.40"/><polygon points="22.05,7.80 22.45,8.80 23.53,8.87 22.70,9.56 22.97,10.60 22.05,10.03 21.14,10.60 21.41,9.56 20.58,8.87 21.65,8.80"/><polygon points="23.30,12.45 23.70,13.45 24.77,13.52 23.95,14.21 24.21,15.25 23.30,14.68 22.39,15.25 22.65,14.21 21.83,13.52 22.90,13.45"/><polygon points="22.05,17.10 22.45,18.10 23.53,18.17 22.70,18.86 22.97,19.90 22.05,19.33 21.14,19.90 21.41,18.86 20.58,18.17 21.65,18.10"/><polygon points="18.65,20.50 19.05,21.50 20.12,21.58 19.30,22.26 19.56,23.31 18.65,22.73 17.74,23.31 18.00,22.26 17.18,21.58 18.25,21.50"/><polygon points="14.00,21.75 14.40,22.75 15.47,22.82 14.65,23.51 14.91,24.55 14.00,23.98 13.09,24.55 13.35,23.51 12.53,22.82 13.60,22.75"/><polygon points="9.35,20.50 9.75,21.50 10.82,21.58 10.00,22.26 10.26,23.31 9.35,22.73 8.44,23.31 8.70,22.26 7.88,21.58 8.95,21.50"/><polygon points="5.95,17.10 6.35,18.10 7.42,18.17 6.59,18.86 6.86,19.90 5.95,19.33 5.03,19.90 5.30,18.86 4.47,18.17 5.55,18.10"/><polygon points="4.70,12.45 5.10,13.45 6.17,13.52 5.35,14.21 5.61,15.25 4.70,14.68 3.79,15.25 4.05,14.21 3.23,13.52 4.30,13.45"/><polygon points="5.95,7.80 6.35,8.80 7.42,8.87 6.59,9.56 6.86,10.60 5.95,10.03 5.03,10.60 5.30,9.56 4.47,8.87 5.55,8.80"/><polygon points="9.35,4.40 9.75,5.40 10.82,5.47 10.00,6.16 10.26,7.20 9.35,6.63 8.44,7.20 8.70,6.16 7.88,5.47 8.95,5.40"/></g>
<ellipse cx="14" cy="7.6" rx="10.2" ry="6.2" fill="url(#glo2)"/>
</svg>
<svg class="flag" style="left:1068.40px;top:613.00px" viewBox="0 0 28 28">
<defs>
<clipPath id="ptC3"><circle cx="14" cy="14" r="13.3"/></clipPath>
<radialGradient id="ptS3" cx="50%" cy="45%" r="55%"><stop offset="0" stop-color="#000" stop-opacity="0"/><stop offset="0.75" stop-color="#000" stop-opacity="0.04"/><stop offset="1" stop-color="#000" stop-opacity="0.35"/></radialGradient>
<linearGradient id="glo23" x1="0" y1="0" x2="0" y2="1"><stop offset="0" stop-color="#fff" stop-opacity="0.55"/><stop offset="1" stop-color="#fff" stop-opacity="0.05"/></linearGradient>
</defs>
<g clip-path="url(#ptC3)">
<rect x="0" y="0" width="28" height="28" fill="#f5251f"/>
<rect x="0" y="0" width="9.2" height="28" fill="#1d8a34"/>
<circle cx="9.4" cy="13.8" r="5.5" fill="#f0d53c" stroke="#cfa524" stroke-width="0.7"/>
<path d="M6.7 10.9h5.4v3.6a2.7 2.9 0 0 1-5.4 0z" fill="#e02222"/>
<path d="M7.6 11.7h3.6v2.8a1.8 2 0 0 1-3.6 0z" fill="#fff"/>
<g fill="#2a4fb0"><rect x="8.9" y="12.1" width="1" height="1"/><rect x="7.9" y="13.3" width="1" height="1"/><rect x="9.9" y="13.3" width="1" height="1"/><rect x="8.9" y="14.5" width="1" height="1"/><rect x="8.9" y="13.3" width="1" height="1"/></g>
<rect x="0" y="0" width="28" height="28" fill="url(#ptS3)"/>
<ellipse cx="14" cy="7.6" rx="10" ry="6.4" fill="url(#glo23)"/>
</g>
<circle cx="14" cy="14" r="13.3" fill="none" stroke="#7a1a14" stroke-opacity="0.5" stroke-width="0.5"/>
</svg>

</body>
</html>
